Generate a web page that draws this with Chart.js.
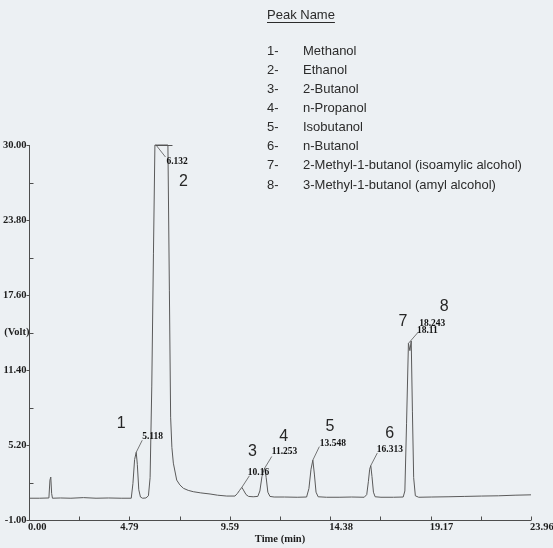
<!DOCTYPE html>
<html>
<head>
<meta charset="utf-8">
<style>
  html, body { margin: 0; padding: 0; background: #ecf0f3; }
  canvas { display: block; }
</style>
<script src="https://cdn.jsdelivr.net/npm/chart.js@4.4.1/dist/chart.umd.min.js"></script>
</head>
<body>
<canvas id="chrom" width="553" height="548"></canvas>
<script>
// Detector trace: retention time (min) and signal (Volt)
const timeMin = [
  0.00, 0.50, 0.95, 1.00, 1.04, 1.08, 1.12, 1.50, 2.00, 2.60, 3.20, 3.80, 4.40, 4.88,
  4.96, 5.04, 5.118, 5.17, 5.24, 5.32, 5.42, 5.58, 5.70,
  5.78, 5.86, 5.94, 6.01, 6.132, 6.40, 6.63, 6.70, 6.76, 6.82, 6.89, 7.05, 7.20, 7.37,
  7.60, 7.84, 8.20, 8.64, 9.00, 9.44, 9.83,
  9.95, 10.05, 10.16, 10.26, 10.36, 10.48, 10.70, 10.92,
  11.02, 11.12, 11.20, 11.253, 11.32, 11.40, 11.50, 11.70, 12.20, 12.80,
  13.25, 13.36, 13.46, 13.548, 13.62, 13.70, 13.80, 14.20, 14.80, 15.40, 16.00,
  16.12, 16.20, 16.26, 16.313, 16.37, 16.44, 16.52, 16.80, 17.40, 17.86,
  17.94, 18.02, 18.11, 18.18, 18.243, 18.30, 18.36, 18.44, 18.60,
  19.20, 20.00, 20.80, 21.60, 22.40, 23.20, 23.96
];
const signalVolt = [
  0.80, 0.80, 0.82, 2.30, 2.55, 1.20, 0.80, 0.82, 0.80, 0.85, 0.80, 0.82, 0.80, 0.80,
  2.00, 4.00, 4.60, 3.60, 1.50, 0.90, 0.80, 0.82, 1.00,
  2.50, 10.0, 21.0, 30.0, 30.0, 30.0, 30.0, 18.0, 7.50, 5.00, 3.70, 2.30, 1.90, 1.62,
  1.45, 1.34, 1.24, 1.15, 1.05, 0.98, 0.98,
  1.20, 1.45, 1.70, 1.40, 1.10, 0.95, 0.92, 0.95,
  1.40, 2.60, 3.10, 3.30, 2.50, 1.30, 0.95, 0.90, 0.90, 0.88,
  0.90, 1.60, 3.20, 3.95, 2.80, 1.30, 0.92, 0.88, 0.88, 0.90, 0.88,
  1.10, 2.20, 3.20, 3.50, 2.60, 1.30, 0.92, 0.88, 0.88, 0.90,
  1.40, 7.00, 13.6, 13.0, 13.8, 8.00, 2.50, 1.00, 0.88,
  0.90, 0.92, 0.95, 0.98, 1.00, 1.05, 1.08
];

// Axis ticks
const xTickValues = [0, 4.79, 9.59, 14.38, 19.17, 23.96];
const xTickLabels = ['0.00', '4.79', '9.59', '14.38', '19.17', '23.96'];
const yTickValues = [-1, 5.2, 11.4, 17.6, 23.8, 30];
const yTickLabels = ['-1.00', '5.20', '11.40', '17.60', '23.80', '30.00'];

// Identified peaks
const peakNumbers = ['1', '2', '3', '4', '5', '6', '7', '8'];
const peakTimes = [5.118, 6.132, 10.16, 11.253, 13.548, 16.313, 18.11, 18.243];
const peakTimeLabels = ['5.118', '6.132', '10.16', '11.253', '13.548', '16.313', '18.11', '18.243'];
const peakNames = [
  'Methanol', 'Ethanol', '2-Butanol', 'n-Propanol', 'Isobutanol', 'n-Butanol',
  '2-Methyl-1-butanol (isoamylic alcohol)', '3-Methyl-1-butanol (amyl alcohol)'
];

// Placement of each peak's leader, time label and number, relative to the apex pixel
const peakLayout = [
  { lead: [0, 0, 6, -12], label: [6, -16], num: [-15, -29] },
  { lead: [-1.5, 0, 8, 12], label: [9, 17], num: [26, 37] },
  { lead: [0, 0, 7.5, -11.5], label: [6, -15], num: [10.5, -36] },
  { lead: [0, 0, 7, -11.5], label: [7, -16], num: [19, -31] },
  { lead: [0, 0, 6.5, -13.5], label: [7, -17], num: [17, -34] },
  { lead: [0, 0, 6.5, -12.5], label: [6, -16.5], num: [19, -31.5] },
  { lead: [0, 0, 10, -11.5], label: [8.5, -13], num: [-5.5, -22] },
  { lead: null, label: [8, -17], num: [33, -34] }
];
const xLabelAlign = ['left', 'center', 'center', 'left', 'left', 'left'];

const AXIS_FONT = 'bold 10.5px "Liberation Serif", "Times New Roman", serif';
const PEAK_FONT = 'bold 9.5px "Liberation Serif", "Times New Roman", serif';
const SANS = '"Liberation Sans", Arial, sans-serif';

const chromDecor = {
  id: 'chromDecor',
  afterDatasetsDraw(chart) {
    const { ctx, chartArea: a, scales: { x, y } } = chart;
    ctx.save();

    // axis lines
    const ax = Math.round(a.left) + 0.5;
    const ay = Math.round(a.bottom) + 0.5;
    ctx.strokeStyle = '#4d4d4d';
    ctx.lineWidth = 1;
    ctx.beginPath();
    ctx.moveTo(ax, Math.round(a.top));
    ctx.lineTo(ax, ay);
    ctx.lineTo(Math.round(a.right), ay);
    ctx.stroke();

    // x ticks (major + midpoints), drawn inward
    ctx.beginPath();
    for (let i = 0; i < xTickValues.length; i++) {
      const px = Math.round(x.getPixelForValue(xTickValues[i])) + 0.5;
      ctx.moveTo(px, ay); ctx.lineTo(px, ay - 4);
      if (i < xTickValues.length - 1) {
        const mx = Math.round(x.getPixelForValue((xTickValues[i] + xTickValues[i + 1]) / 2)) + 0.5;
        ctx.moveTo(mx, ay); ctx.lineTo(mx, ay - 4);
      }
    }
    // y ticks: major outward, midpoints inward
    for (let i = 0; i < yTickValues.length; i++) {
      const py = Math.round(y.getPixelForValue(yTickValues[i])) + 0.5;
      ctx.moveTo(ax, py); ctx.lineTo(ax - 3, py);
      if (i < yTickValues.length - 1) {
        const my = Math.round(y.getPixelForValue((yTickValues[i] + yTickValues[i + 1]) / 2)) + 0.5;
        ctx.moveTo(ax, my); ctx.lineTo(ax + 4, my);
      }
    }
    ctx.stroke();

    // tick labels
    ctx.fillStyle = '#1e1e1e';
    ctx.font = AXIS_FONT;
    ctx.textBaseline = 'middle';
    ctx.textAlign = 'right';
    yTickValues.forEach((v, i) => {
      ctx.fillText(yTickLabels[i], ax - 3, y.getPixelForValue(v));
    });
    ctx.fillText('(Volt)', ax, y.getPixelForValue((yTickValues[2] + yTickValues[3]) / 2));

    ctx.textBaseline = 'top';
    xTickValues.forEach((v, i) => {
      const px = x.getPixelForValue(v);
      ctx.textAlign = xLabelAlign[i];
      ctx.fillText(xTickLabels[i], xLabelAlign[i] === 'left' ? px - 1 : px, ay + 2);
    });
    ctx.textAlign = 'center';
    ctx.fillText('Time (min)', (a.left + a.right) / 2, ay + 14);

    // peak annotations
    ctx.strokeStyle = '#555';
    ctx.lineWidth = 0.8;
    peakTimes.forEach((t, i) => {
      const idx = timeMin.indexOf(t);
      const px = x.getPixelForValue(t);
      const py = y.getPixelForValue(signalVolt[idx]);
      const L = peakLayout[i];
      if (L.lead) {
        ctx.beginPath();
        ctx.moveTo(px + L.lead[0], py + L.lead[1]);
        ctx.lineTo(px + L.lead[2], py + L.lead[3]);
        ctx.stroke();
      }
      ctx.fillStyle = '#111';
      ctx.font = PEAK_FONT;
      ctx.textAlign = 'left';
      ctx.textBaseline = 'middle';
      ctx.fillText(peakTimeLabels[i], px + L.label[0], py + L.label[1]);
      ctx.fillStyle = '#262626';
      ctx.font = '16px ' + SANS;
      ctx.textAlign = 'center';
      ctx.fillText(peakNumbers[i], px + L.num[0], py + L.num[1]);
    });

    // clipped top marker on the saturated peak
    const p2 = x.getPixelForValue(peakTimes[1]);
    ctx.strokeStyle = '#555';
    ctx.lineWidth = 1;
    ctx.beginPath();
    ctx.moveTo(p2 - 2, Math.round(a.top) + 0.5);
    ctx.lineTo(p2 + 15, Math.round(a.top) + 0.5);
    ctx.stroke();

    // peak name list
    ctx.fillStyle = '#2b2b2b';
    ctx.font = '13px ' + SANS;
    ctx.textAlign = 'left';
    ctx.textBaseline = 'middle';
    const lx = 267, nx = 303, top = 15;
    ctx.fillText('Peak Name', lx, top);
    const w = ctx.measureText('Peak Name').width;
    ctx.strokeStyle = '#2b2b2b';
    ctx.beginPath();
    ctx.moveTo(lx, top + 7.5); ctx.lineTo(lx + w, top + 7.5);
    ctx.stroke();
    peakNames.forEach((name, i) => {
      const ly = 51 + i * 19.15;
      ctx.fillText(peakNumbers[i] + '-', lx, ly);
      ctx.fillText(name, nx, ly);
    });

    ctx.restore();
  }
};

new Chart(document.getElementById('chrom'), {
  type: 'line',
  data: {
    datasets: [{
      data: timeMin.map((t, i) => ({ x: t, y: signalVolt[i] })),
      borderColor: '#5a5a5a',
      borderWidth: 1,
      pointRadius: 0,
      tension: 0,
      fill: false,
      clip: false
    }]
  },
  options: {
    responsive: false,
    animation: false,
    devicePixelRatio: 1,
    layout: { padding: { left: 29, right: 22, top: 145, bottom: 28 } },
    plugins: { legend: { display: false }, tooltip: { enabled: false } },
    scales: {
      x: { type: 'linear', min: 0, max: 23.96, display: false },
      y: { type: 'linear', min: -1, max: 30, display: false }
    }
  },
  plugins: [chromDecor]
});
</script>
</body>
</html>
